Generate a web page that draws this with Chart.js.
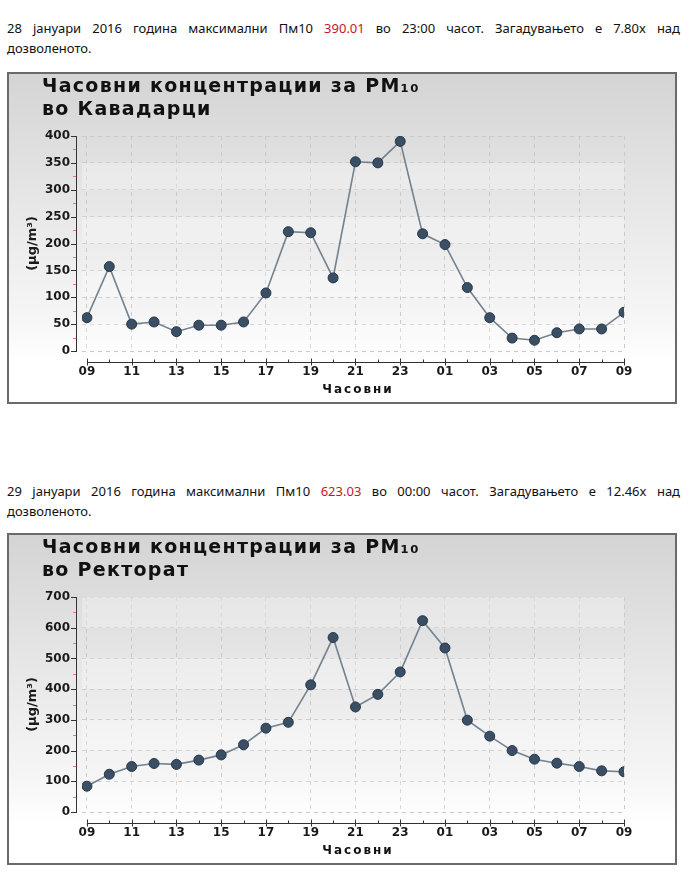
<!DOCTYPE html>
<html>
<head>
<meta charset="utf-8">
<script src="https://cdn.jsdelivr.net/npm/chart.js@4.4.1/dist/chart.umd.min.js"></script>
<style>
  body { margin: 0; background: #fff; width: 690px; height: 880px; position: relative; font-family: "Noto Sans", sans-serif; }
  .note { position: absolute; left: 7px; width: 673px; margin: 0; font-size: 13px; line-height: 20px; color: #111; }
  .note .l1 { display: block; text-align: justify; text-align-last: justify; }
  .note .hi { color: #c4161c; }
  .frame { position: absolute; left: 7px; width: 666px; height: 328px; border: 2px solid #6a6a6a;
           background: linear-gradient(#d4d4d4 0%, #e7e7e7 40%, #f6f6f6 75%, #ffffff 88%); }
  .frame canvas { display: block; }
</style>
</head>
<body>

<p class="note" style="top:18px">
  <span class="l1">28 јануари 2016 година максимални Пм10 <span class="hi">390.01</span> во 23:00 часот. Загадувањето е 7.80x над</span>
  дозволеното.
</p>
<div class="frame" style="top:72px"><canvas id="kavadarci"></canvas></div>

<p class="note" style="top:481px">
  <span class="l1">29 јануари 2016 година максимални Пм10 <span class="hi">623.03</span> во 00:00 часот. Загадувањето е 12.46x над</span>
  дозволеното.
</p>
<div class="frame" style="top:533px"><canvas id="rektorat"></canvas></div>

<script>
// hourly PM10, from 09h one day to 09h the next
const hours = ['09','10','11','12','13','14','15','16','17','18','19','20','21','22','23','00','01','02','03','04','05','06','07','08','09'];
const kavadarciPm10 = [62, 157, 50, 54, 36, 48, 48, 54, 108, 222, 220, 136, 352, 350, 390, 218, 198, 118, 62, 24, 20, 34, 41, 41, 72];
const rektoratPm10 = [84, 123, 148, 158, 155, 169, 186, 219, 273, 292, 414, 568, 342, 383, 456, 623, 534, 299, 247, 200, 172, 159, 148, 134, 131];
const kavadarciTicks = [0, 50, 100, 150, 200, 250, 300, 350, 400];
const rektoratTicks = [0, 100, 200, 300, 400, 500, 600, 700];
const titleLine1 = 'Часовни концентрации за PM₁₀';
const xTitle = 'Часовни';
const yTitle = '(µg/m³)';

const tickFont = { family: 'DejaVu Sans', weight: 'bold', size: 12 };

// axis lines, title and x label drawn on top of what Chart.js lays out
const decor = {
  id: 'decor',
  beforeDatasetsDraw(chart, args, opts) {
    // faint alternating bands between the horizontal grid lines
    const ctx = chart.ctx, ys = chart.scales.y, area = chart.chartArea;
    ctx.save();
    ctx.fillStyle = 'rgba(255,255,255,0.28)';
    for (let i = 0; i < opts.ticks.length - 1; i += 2) {
      const a = ys.getPixelForValue(opts.ticks[i]), b = ys.getPixelForValue(opts.ticks[i + 1]);
      ctx.fillRect(area.left, b, area.right - area.left, a - b);
    }
    ctx.restore();
  },
  afterDraw(chart, args, opts) {
    const ctx = chart.ctx;
    const xs = chart.scales.x, ys = chart.scales.y;
    const ax = ys.left + 67;
    const y0 = ys.getPixelForValue(0);
    const yTop = ys.getPixelForValue(opts.ticks[opts.ticks.length - 1]);
    ctx.save();
    ctx.lineWidth = 1;

    // y axis
    ctx.strokeStyle = '#333';
    ctx.beginPath();
    ctx.moveTo(ax + 0.5, yTop);
    ctx.lineTo(ax + 0.5, y0);
    opts.ticks.forEach(v => {
      const p = Math.round(ys.getPixelForValue(v)) + 0.5;
      ctx.moveTo(ax - 5, p);
      ctx.lineTo(ax + 1, p);
    });
    ctx.stroke();
    ctx.strokeStyle = '#e07a7a';
    ctx.beginPath();
    const half = (opts.ticks[1] - opts.ticks[0]) / 2;
    opts.ticks.slice(1).forEach(v => {
      const p = Math.round(ys.getPixelForValue(v - half)) + 0.5;
      ctx.moveTo(ax - 3, p);
      ctx.lineTo(ax, p);
    });
    ctx.stroke();

    // x axis, set a little below the zero line
    const axY = Math.round(y0) + 11.5;
    ctx.strokeStyle = '#333';
    ctx.beginPath();
    ctx.moveTo(xs.getPixelForValue(0), axY);
    ctx.lineTo(xs.getPixelForValue(hours.length - 1), axY);
    hours.forEach((h, i) => {
      const p = Math.round(xs.getPixelForValue(i)) + 0.5;
      if (i % 2 === 0) { ctx.moveTo(p, axY - 4); ctx.lineTo(p, axY + 3); }
      else { ctx.moveTo(p, axY - 3); ctx.lineTo(p, axY); }
    });
    ctx.stroke();

    // titles
    ctx.fillStyle = '#111';
    ctx.textBaseline = 'alphabetic';
    ctx.textAlign = 'left';
    ctx.letterSpacing = '1.3px';
    ctx.font = 'bold 19px "DejaVu Sans"';
    ctx.fillText(titleLine1, 33, 18);
    ctx.fillText(opts.title, 33, 41);

    ctx.letterSpacing = '2px';
    ctx.font = 'bold 12px "DejaVu Sans"';
    ctx.textAlign = 'center';
    ctx.textBaseline = 'middle';
    ctx.fillText(xTitle, 349, 316);
    ctx.restore();
  }
};

function makeChart(id, station, values, yTicks) {
  return new Chart(document.getElementById(id), {
    type: 'line',
    data: {
      datasets: [{
        data: values.map((v, i) => ({ x: i, y: v })),
        borderColor: '#73828f',
        borderWidth: 1.6,
        pointRadius: 5,
        pointBackgroundColor: '#3a4f63',
        pointBorderColor: '#26374a',
        pointBorderWidth: 1,
        tension: 0
      }]
    },
    options: {
      responsive: true,
      maintainAspectRatio: false,
      animation: false,
      layout: { padding: { top: 62, right: 51, bottom: 0, left: 0 } },
      plugins: {
        legend: { display: false },
        tooltip: { enabled: false },
        decor: { title: station, ticks: yTicks }
      },
      scales: {
        x: {
          type: 'linear',
          min: -0.22,
          max: hours.length - 1,
          afterBuildTicks: s => { s.ticks = hours.map((h, i) => ({ value: i })); },
          afterFit: s => { s.height = 51; },
          grid: { color: c => (c.tick && c.tick.value % 2 === 0) ? '#cbcbcb' : 'rgba(0,0,0,0)', drawTicks: false },
          border: { display: false, dash: [4, 4] },
          ticks: {
            autoSkip: false, maxRotation: 0, padding: 14, color: '#1a1a1a', font: tickFont,
            callback: v => (v % 2 === 0 ? hours[v] : '')
          }
        },
        y: {
          min: 0,
          max: yTicks[yTicks.length - 1],
          afterBuildTicks: s => { s.ticks = yTicks.map(v => ({ value: v })); },
          afterFit: s => { s.width = 73; },
          grid: { color: '#cbcbcb', drawTicks: false },
          border: { display: false, dash: [4, 4] },
          ticks: { padding: 12, color: '#1a1a1a', font: tickFont },
          title: { display: true, text: yTitle, color: '#1a1a1a', font: { family: 'DejaVu Sans', weight: 'bold', size: 13 }, padding: { top: 16, bottom: 0 } }
        }
      }
    },
    plugins: [decor]
  });
}

makeChart('kavadarci', 'во Кавадарци', kavadarciPm10, kavadarciTicks);
makeChart('rektorat', 'во Ректорат', rektoratPm10, rektoratTicks);
</script>
</body>
</html>
